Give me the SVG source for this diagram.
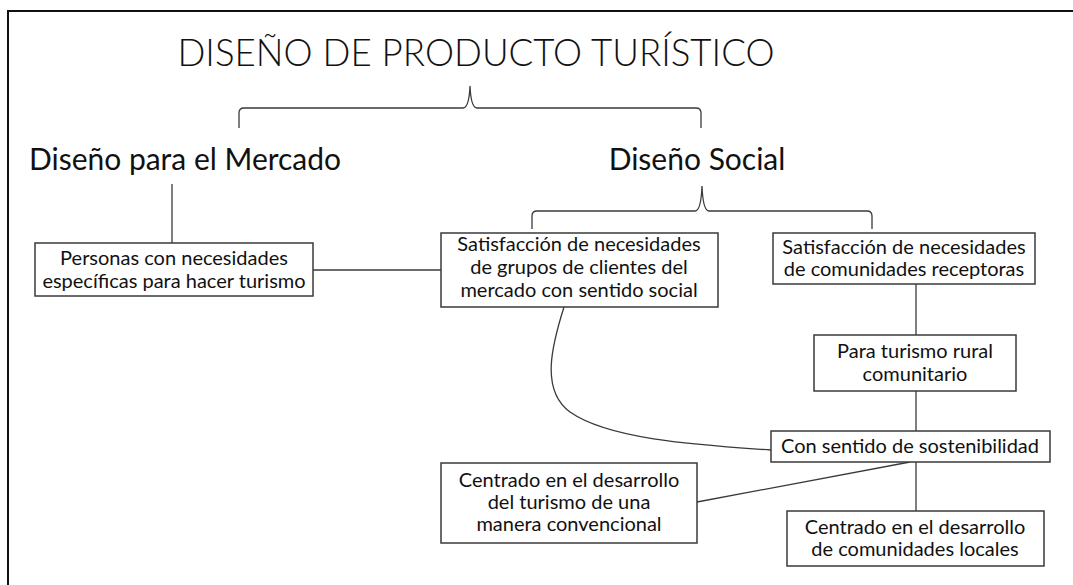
<svg xmlns="http://www.w3.org/2000/svg" width="1073" height="585" viewBox="0 0 1073 585">
<style>
.box{fill:#fff;stroke:#3a3a3a;stroke-width:1.5}
.ln{fill:none;stroke:#3a3a3a;stroke-width:1.3}
.t{font-family:Lato,"Open Sans",sans-serif;font-size:20px;fill:#111;text-anchor:middle}
.h1{font-family:Lato,"Open Sans",sans-serif;font-weight:300;font-size:36.7px;fill:#111;text-anchor:middle}
.h2{font-family:Lato,"Open Sans",sans-serif;font-size:30px;fill:#111;text-anchor:middle}
</style>
<rect x="0" y="0" width="1073" height="585" fill="#fff"/>
<path d="M8,590 L8,11 L1080,11" fill="none" stroke="#111" stroke-width="2"/>
<g id="title"><text class="h1" x="476" y="66">DISEÑO DE PRODUCTO TURÍSTICO</text></g>
<g id="mercado"><text class="h2" x="185" y="170">Diseño para el Mercado</text></g>
<g id="social"><text class="h2" x="697" y="170">Diseño Social</text></g>
<g id="connectors">
<path class="ln" d="M239,128 L239,113 Q239,108 244,108 L463,108 Q469,108 470,86 Q471,108 477,108 L696,108 Q701,108 701,113 L701,128"/>
<path class="ln" d="M532,229 L532,216 Q532,211 537,211 L695,211 Q701,211 702,186 Q703,211 709,211 L867,211 Q872,211 872,216 L872,229"/>
<line class="ln" x1="172" y1="184" x2="172" y2="243"/>
<line class="ln" x1="313" y1="270" x2="441" y2="270"/>
<line class="ln" x1="916" y1="284" x2="916" y2="335"/>
<line class="ln" x1="916" y1="391" x2="916" y2="431"/>
<line class="ln" x1="916" y1="462" x2="916" y2="511"/>
<path class="ln" d="M564,307 C552,345 540,390 570,412 C610,440 700,445 771,450"/>
<line class="ln" x1="697" y1="502" x2="910" y2="462"/>
</g>
<g id="n1"><rect class="box" x="35" y="243" width="278" height="53"/>
<text class="t" x="174" y="265">Personas con necesidades</text><text class="t" x="174" y="288">específicas para hacer turismo</text></g>
<g id="n2"><rect class="box" x="441" y="233" width="277" height="74"/>
<text class="t" x="579" y="251">Satisfacción de necesidades</text><text class="t" x="579" y="274">de grupos de clientes del</text><text class="t" x="579" y="297">mercado con sentido social</text></g>
<g id="n3"><rect class="box" x="773" y="233" width="262" height="51"/>
<text class="t" x="904" y="254">Satisfacción de necesidades</text><text class="t" x="904" y="276">de comunidades receptoras</text></g>
<g id="n4"><rect class="box" x="814" y="335" width="202" height="56"/>
<text class="t" x="915" y="358">Para turismo rural</text><text class="t" x="915" y="381">comunitario</text></g>
<g id="n5"><rect class="box" x="771" y="431" width="279" height="31"/>
<text class="t" x="910" y="453">Con sentido de sostenibilidad</text></g>
<g id="n6"><rect class="box" x="441" y="463" width="256" height="80"/>
<text class="t" x="569" y="487">Centrado en el desarrollo</text><text class="t" x="569" y="509">del turismo de una</text><text class="t" x="569" y="531">manera convencional</text></g>
<g id="n7"><rect class="box" x="787" y="511" width="257" height="55"/>
<text class="t" x="915" y="534">Centrado en el desarrollo</text><text class="t" x="915" y="556">de comunidades locales</text></g>
</svg>
